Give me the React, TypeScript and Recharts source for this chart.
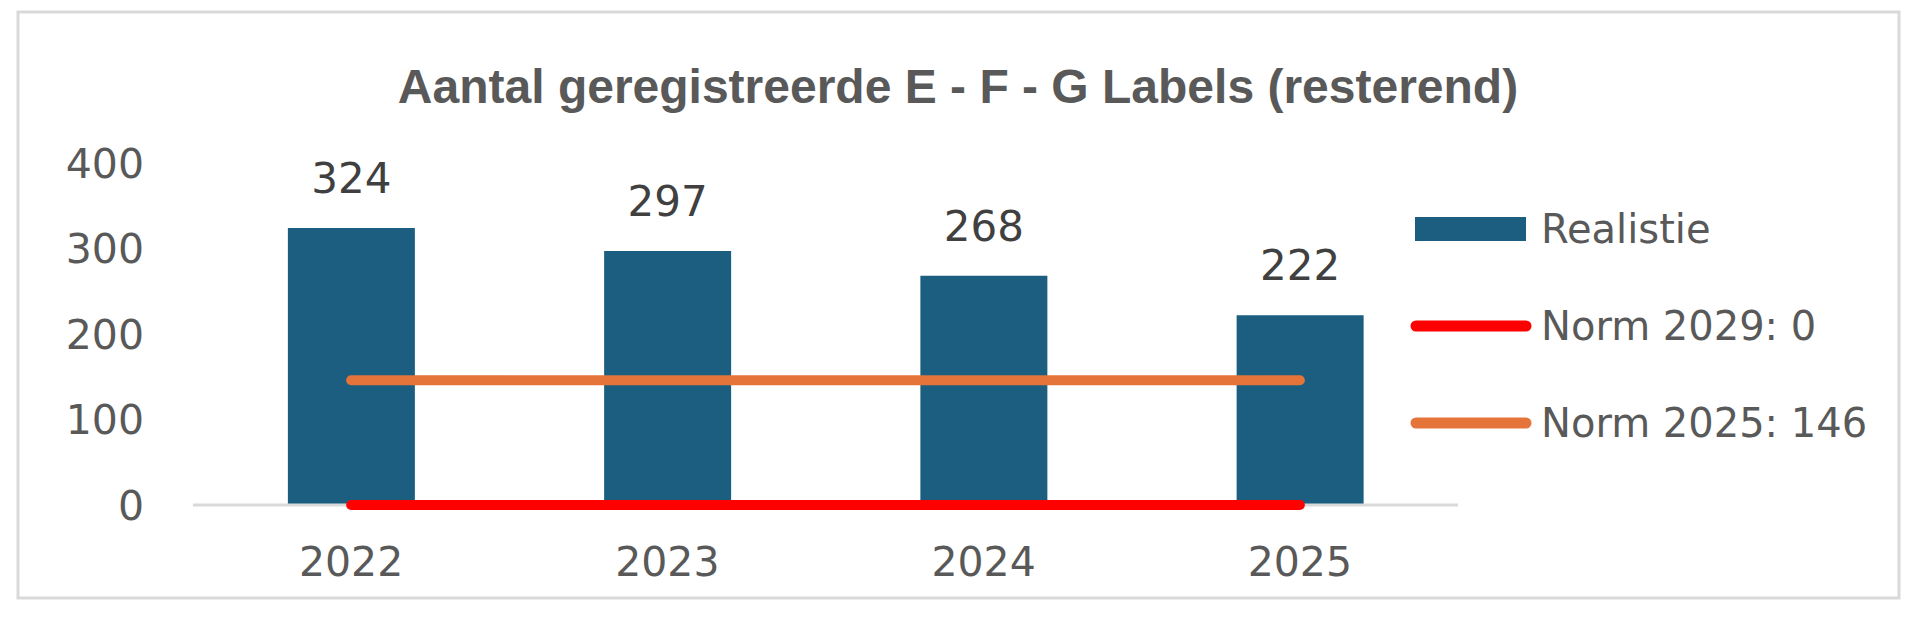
import React from 'react';
import { ComposedChart, Bar, Line, XAxis, YAxis, LabelList, Legend } from 'recharts';

const years = ['2022', '2023', '2024', '2025'];
const realisatie = [324, 297, 268, 222];
const norm2029 = [0, 0, 0, 0];
const norm2025 = [146, 146, 146, 146];
const yTicks = [0, 100, 200, 300, 400];

const seriesNames = {
  realisatie: 'Realistie',
  norm2029: 'Norm 2029: 0',
  norm2025: 'Norm 2025: 146',
};
const legendOrder = [seriesNames.realisatie, seriesNames.norm2029, seriesNames.norm2025];

const title = 'Aantal geregistreerde E - F - G Labels (resterend)';

const data = years.map((y, i) => ({
  year: y,
  realisatie: realisatie[i],
  norm2029: norm2029[i],
  norm2025: norm2025[i],
}));

const W = 1919;
const H = 618;
const FONT = '"DejaVu Sans", sans-serif';
const TEXT = '#595959';

const renderLegend = (props: any) => {
  const payload = [...(props.payload || [])].sort(
    (a: any, b: any) => legendOrder.indexOf(a.value) - legendOrder.indexOf(b.value)
  );
  return (
    <div style={{ display: 'flex', flexDirection: 'column' }}>
      {payload.map((entry: any, i: number) => (
        <div key={i} style={{ height: 97, display: 'flex', alignItems: 'center' }}>
          <svg width={136} height={40} style={{ display: 'block' }}>
            {entry.type === 'rect' ? (
              <rect x={10} y={8} width={111} height={24} fill={entry.color} />
            ) : (
              <line x1={11} y1={20} x2={121} y2={20} stroke={entry.color} strokeWidth={11} strokeLinecap="round" />
            )}
          </svg>
          <span style={{ fontFamily: FONT, fontSize: 40, color: TEXT, whiteSpace: 'nowrap', lineHeight: '40px' }}>
            {entry.value}
          </span>
        </div>
      ))}
    </div>
  );
};

export default function App() {
  return (
    <div style={{ position: 'absolute', left: 0, top: 0, width: W, height: H, background: '#ffffff' }}>
      <ComposedChart
        width={W}
        height={H}
        data={data}
        margin={{ top: 163, right: 461, bottom: 33, left: 0 }}
        barCategoryGap="30%"
      >
        <XAxis
          dataKey="year"
          axisLine={{ stroke: '#d9d9d9', strokeWidth: 3 }}
          tickLine={false}
          tickSize={0}
          tickMargin={42}
          height={80}
          tick={{ fill: TEXT, fontSize: 41, fontFamily: FONT }}
        />
        <YAxis
          domain={[0, 400]}
          ticks={yTicks}
          axisLine={false}
          tickLine={false}
          tickSize={0}
          tickMargin={49}
          width={193}
          tick={{ fill: TEXT, fontSize: 41, fontFamily: FONT }}
        />
        <Legend
          layout="horizontal"
          verticalAlign="middle"
          align="center"
          content={renderLegend}
          wrapperStyle={{ position: 'absolute', left: 1405, top: 180, width: 510, height: 300 }}
        />
        <Bar dataKey="realisatie" name={seriesNames.realisatie} fill="#1B5E80" isAnimationActive={false}>
          <LabelList dataKey="realisatie" position="top" offset={35} fill="#404040" fontSize={42} fontFamily={FONT} />
        </Bar>
        <Line
          dataKey="norm2029"
          name={seriesNames.norm2029}
          stroke="#FF0000"
          strokeWidth={10}
          strokeLinecap="round"
          dot={false}
          activeDot={false}
          isAnimationActive={false}
          {...({ zIndex: 700 } as any)}
        />
        <Line
          dataKey="norm2025"
          name={seriesNames.norm2025}
          stroke="#E5743A"
          strokeWidth={10}
          strokeLinecap="round"
          dot={false}
          activeDot={false}
          isAnimationActive={false}
          {...({ zIndex: 700 } as any)}
        />
      </ComposedChart>
      <svg width={W} height={H} style={{ position: 'absolute', left: 0, top: 0, pointerEvents: 'none' }}>
        <rect x={18} y={12} width={1881} height={586} fill="none" stroke="#d9d9d9" strokeWidth={3} />
        <text
          x={958}
          y={103}
          textAnchor="middle"
          fill={TEXT}
          fontSize={48}
          fontWeight="bold"
          fontFamily='"Liberation Sans", Arial, sans-serif'
        >
          {title}
        </text>
      </svg>
    </div>
  );
}
